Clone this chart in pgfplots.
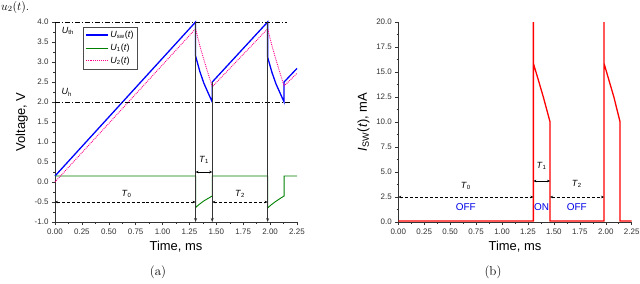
\documentclass[border=0pt]{standalone}
\usepackage{fontspec}
\setsansfont{Liberation Sans}
\usepackage{pgfplots}
\pgfplotsset{compat=1.18}
\usetikzlibrary{arrows.meta}
\definecolor{cblue}{RGB}{0,0,255}
\definecolor{cgreen}{RGB}{0,128,0}
\definecolor{cpink}{RGB}{255,0,140}
\definecolor{cred}{RGB}{255,0,0}
\definecolor{ctxt}{RGB}{0,0,230}
\newcommand\Tl[1]{\textit{T}\textsubscript{#1}}
\pgfplotsset{mystyle/.style={
  scale only axis,
  axis x line*=bottom, axis y line*=left,
  tick align=outside,
  xmin=0, xmax=2.25,
  xtick={0,0.25,0.5,0.75,1,1.25,1.5,1.75,2,2.25},
  minor x tick num=1, minor y tick num=1,
  major tick length=3bp, minor tick length=1.6bp,
  /pgf/number format/assume math mode=true,
  xticklabel style={/pgf/number format/fixed, /pgf/number format/fixed zerofill, /pgf/number format/precision=2, /pgf/number format/assume math mode=true},
  yticklabel style={/pgf/number format/fixed, /pgf/number format/fixed zerofill, /pgf/number format/precision=1, /pgf/number format/assume math mode=true},
  tick label style={font=\sffamily\fontsize{8}{9}\selectfont, text=black!80},
  label style={font=\sffamily\fontsize{13}{15}\selectfont},
  axis line style={black!80, line width=0.6bp},
  every tick/.style={black!80, line width=0.5bp},
  clip=false,
  xlabel={Time, ms},
}}
\begin{document}
\begin{tikzpicture}
\useasboundingbox (0,0) rectangle (640bp,-284bp);
\node[anchor=base west, inner sep=0pt, font=\fontsize{12}{14}\selectfont] at (1bp,-10bp) {$u_2(t)$.};
% ---------------- (a) ----------------
\begin{axis}[mystyle,
  at={(55bp,-222bp)}, anchor=south west,
  width=242bp, height=200bp,
  ymin=-1, ymax=4,
  ytick={-1,-0.5,0,0.5,1,1.5,2,2.5,3,3.5,4},
  ylabel={Voltage, V},
  legend style={at={(axis cs:0.26,3.88)}, anchor=north west,
    font=\sffamily\fontsize{9}{10}\selectfont, draw=black!70, inner sep=2pt, row sep=1pt},
  legend cell align=left,
  legend image code/.code={\draw[#1] (0bp,0bp) -- (22bp,0bp);},
]
\addplot[cblue, line width=1.3bp] coordinates {
(0,0.15)(1.307,4.0)(1.307,3.15)(1.347,2.76)(1.384,2.47)(1.425,2.22)(1.462,2.0)
(1.462,2.5)(1.977,4.0)(1.977,3.12)(2.017,2.74)(2.055,2.45)(2.095,2.21)(2.13,2.0)
(2.13,2.5)(2.25,2.84)};
\addlegendentry{\textit{U}\textsubscript{sw}(\textit{t})}
\addplot[cgreen, line width=0.9bp] coordinates {
(0,0.15)(1.307,0.15)(1.307,-0.64)(1.34,-0.56)(1.385,-0.47)(1.43,-0.40)(1.462,-0.35)
(1.462,0.15)(1.977,0.15)(1.977,-0.65)(2.01,-0.57)(2.055,-0.48)(2.10,-0.40)(2.13,-0.35)
(2.13,0.15)(2.25,0.15)};
\addlegendentry{\textit{U}\textsubscript{1}(\textit{t})}
\addplot[cpink, line width=0.9bp, densely dotted] coordinates {
(0,0.0)(1.307,3.83)(1.345,3.42)(1.385,3.05)(1.425,2.7)(1.462,2.38)
(1.977,3.83)(2.015,3.43)(2.055,3.05)(2.095,2.7)(2.13,2.4)(2.25,2.72)};
\addlegendentry{\textit{U}\textsubscript{2}(\textit{t})}
\draw[black, line width=0.6bp, dash pattern=on 5bp off 2bp on 1bp off 2bp] (axis cs:0,4) -- (axis cs:2.16,4);
\draw[black, line width=0.6bp, dash pattern=on 5bp off 2bp on 1bp off 2bp] (axis cs:0,2) -- (axis cs:2.2,2);
\draw[black!80, line width=0.7bp, -{Stealth[length=4bp,width=3bp]}] (axis cs:1.307,4) -- (axis cs:1.307,-1);
\draw[black!80, line width=0.7bp, -{Stealth[length=4bp,width=3bp]}] (axis cs:1.462,2.5) -- (axis cs:1.462,-1);
\draw[black!80, line width=0.7bp, -{Stealth[length=4bp,width=3bp]}] (axis cs:1.977,4) -- (axis cs:1.977,-1);
\draw[black, line width=0.5bp, densely dashed, {Stealth[length=3bp,width=2.5bp]}-{Stealth[length=3bp,width=2.5bp]}] (axis cs:0,-0.5) -- (axis cs:1.307,-0.5);
\draw[black, line width=0.5bp, densely dashed, {Stealth[length=3bp,width=2.5bp]}-{Stealth[length=3bp,width=2.5bp]}] (axis cs:1.462,-0.5) -- (axis cs:1.977,-0.5);
\draw[black, line width=0.5bp, {Stealth[length=3bp,width=2.5bp]}-{Stealth[length=3bp,width=2.5bp]}] (axis cs:1.307,0.25) -- (axis cs:1.462,0.25);
\node[font=\sffamily\fontsize{9}{10}\selectfont] at (axis cs:0.666,-0.3) {\Tl{0}};
\node[font=\sffamily\fontsize{9}{10}\selectfont] at (axis cs:1.385,0.55) {\Tl{1}};
\node[font=\sffamily\fontsize{9}{10}\selectfont] at (axis cs:1.72,-0.3) {\Tl{2}};
\node[font=\sffamily\fontsize{9}{10}\selectfont] at (axis cs:0.12,3.78) {\textit{U}\textsubscript{th}};
\node[font=\sffamily\fontsize{9}{10}\selectfont] at (axis cs:0.11,2.24) {\textit{U}\textsubscript{h}};
\end{axis}
\node[font=\fontsize{13}{15}\selectfont] at (158bp,-272bp) {(a)};
% ---------------- (b) ----------------
\begin{axis}[mystyle,
  at={(398.3bp,-222bp)}, anchor=south west,
  width=233.4bp, height=200bp,
  ymin=0, ymax=20,
  ytick={0,2.5,5,7.5,10,12.5,15,17.5,20},
  ylabel={\textit{I}\textsubscript{SW}(\textit{t}), mA},
]
\addplot[cred, line width=1.3bp] coordinates {
(0,0.1)(1.302,0.1)(1.302,20)(1.302,15.87)(1.35,14.2)(1.398,12.5)(1.463,10.0)(1.463,0.1)
(1.983,0.1)(1.983,20)(1.983,15.87)(2.03,14.2)(2.078,12.5)(2.138,10.0)(2.138,0.1)(2.25,0.1)};
\draw[black, line width=0.5bp, densely dashed, {Stealth[length=3bp,width=2.5bp]}-{Stealth[length=3bp,width=2.5bp]}] (axis cs:0,2.5) -- (axis cs:1.302,2.5);
\draw[black, line width=0.5bp, densely dashed, {Stealth[length=3bp,width=2.5bp]}-{Stealth[length=3bp,width=2.5bp]}] (axis cs:1.463,2.5) -- (axis cs:1.983,2.5);
\draw[black, line width=0.5bp, {Stealth[length=3bp,width=2.5bp]}-{Stealth[length=3bp,width=2.5bp]}] (axis cs:1.302,4.1) -- (axis cs:1.463,4.1);
\node[font=\sffamily\fontsize{9}{10}\selectfont] at (axis cs:0.65,3.6) {\Tl{0}};
\node[font=\sffamily\fontsize{9}{10}\selectfont] at (axis cs:1.38,5.6) {\Tl{1}};
\node[font=\sffamily\fontsize{9}{10}\selectfont] at (axis cs:1.72,3.8) {\Tl{2}};
\node[font=\sffamily\fontsize{10}{11}\selectfont, text=ctxt] at (axis cs:0.65,1.5) {OFF};
\node[font=\sffamily\fontsize{10}{11}\selectfont, text=ctxt] at (axis cs:1.382,1.5) {ON};
\node[font=\sffamily\fontsize{10}{11}\selectfont, text=ctxt] at (axis cs:1.72,1.5) {OFF};
\end{axis}
\node[font=\fontsize{13}{15}\selectfont] at (493bp,-272bp) {(b)};
\end{tikzpicture}
\end{document}
